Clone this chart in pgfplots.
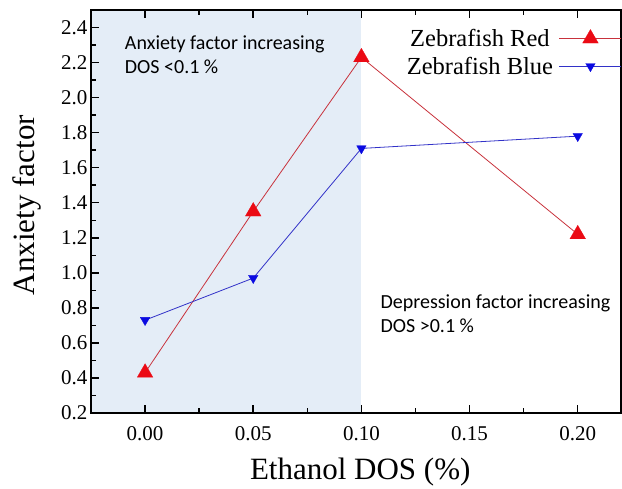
\documentclass[border=0pt]{standalone}
\usepackage{pgfplots}
\pgfplotsset{compat=1.18}
\usepackage{fontspec}
\setmainfont{Liberation Serif}
\newfontfamily\annfont{Carlito}
\definecolor{shade}{RGB}{228,237,247}
\definecolor{myred}{RGB}{235,10,20}
\definecolor{myblue}{RGB}{10,10,225}
\definecolor{redline}{RGB}{200,50,60}
\definecolor{blueline}{RGB}{50,50,200}
\begin{document}
\begin{tikzpicture}
\begin{axis}[
  name=ax,
  scale only axis, width=530pt, height=403pt,
  xmin=-0.025, xmax=0.22, ymin=0.2, ymax=2.5,
  xtick={0,0.05,0.1,0.15,0.2},
  ytick={0.2,0.4,0.6,0.8,1.0,1.2,1.4,1.6,1.8,2.0,2.2,2.4},
  minor x tick num=1, minor y tick num=1,
  tick align=inside, xtick pos=both, ytick pos=left,
  major tick length=8pt, minor tick length=5pt,
  every tick/.style={black, line width=1.5pt},
  axis line style={line width=2pt},
  axis on top,
  /pgf/number format/assume math mode=true,
  xticklabel style={/pgf/number format/.cd, fixed, fixed zerofill, precision=2, /tikz/.cd, yshift=-10pt},
  yticklabel style={/pgf/number format/.cd, fixed, fixed zerofill, precision=1},
  ticklabel style={font=\fontsize{21}{24}\selectfont},
  xlabel={Ethanol DOS (\%)}, ylabel={Anxiety factor},
  every axis x label/.style={at={(axis description cs:0.508,-0.166)}, anchor=base, font=\fontsize{31}{34}\selectfont},
  every axis y label/.style={at={(axis description cs:-0.106,0.516)}, anchor=base, rotate=90, font=\fontsize{31}{34}\selectfont},
  legend style={draw=none, fill=none, at={(axis description cs:1.002,0.958)}, anchor=north east,
    font=\fontsize{24.5}{28}\selectfont, row sep=5pt, inner sep=0pt,
    nodes={inner xsep=6pt}},
  legend plot pos=right,
  legend image code/.code={\draw[mark repeat=2, mark phase=2, #1] plot coordinates {(0pt,0pt) (31pt,0pt) (62pt,0pt)};},
]
\addplot[fill=shade, draw=none, forget plot] coordinates {(-0.025,0.2) (0.1,0.2) (0.1,2.5) (-0.025,2.5)} -- cycle;
\addplot[redline, line width=0.8pt, mark=triangle*, mark size=9pt, mark options={solid, fill=myred, draw=myred, line width=0.3pt}]
  coordinates {(0,0.43) (0.05,1.35) (0.10,2.23) (0.20,1.22)};
\addlegendentry{Zebrafish Red}
\addplot[blueline, line width=0.8pt, mark=triangle*, mark size=5.5pt, mark options={solid, rotate=180, fill=myblue, draw=myblue, line width=0.3pt}]
  coordinates {(0,0.73) (0.05,0.97) (0.10,1.71) (0.20,1.78)};
\addlegendentry{Zebrafish Blue}
\node[anchor=north west, align=left, inner sep=0pt, font=\annfont\fontsize{20}{24}\selectfont] at (axis cs:-0.0094,2.354) {Anxiety factor increasing\\DOS <0.1 \%};
\node[anchor=north west, align=left, inner sep=0pt, font=\annfont\fontsize{20}{24}\selectfont] at (axis cs:0.1088,0.878) {Depression factor increasing\\DOS >0.1 \%};
\end{axis}
\path (ax.south west) ++(-91pt,-75pt) coordinate (bba);
\path (ax.north east) ++(1pt,10pt) coordinate (bbb);
\pgfresetboundingbox
\path[use as bounding box] (bba) rectangle (bbb);
\end{tikzpicture}
\end{document}
